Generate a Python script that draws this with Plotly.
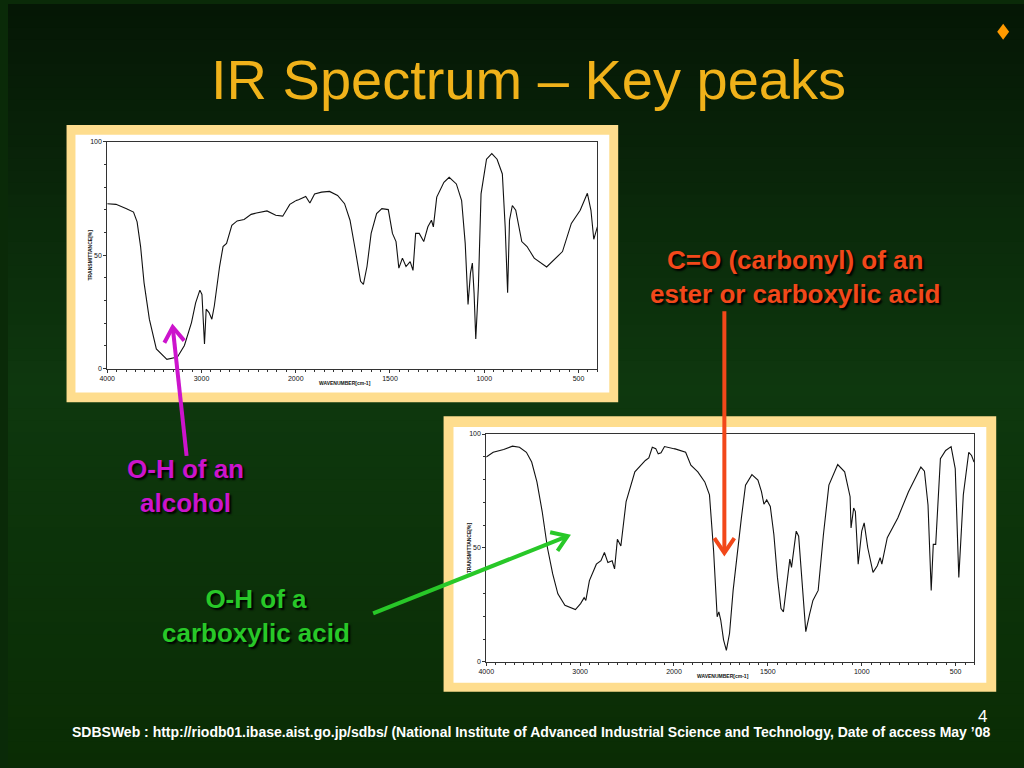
import math
import plotly.graph_objects as go

# ---------------- data ----------------
wn_alcohol = [4000, 3907, 3795, 3721, 3683, 3646, 3609, 3553, 3479, 3367, 3255, 3181, 3106, 3062, 3017,
              2995, 2968, 2950, 2920, 2890, 2864, 2808, 2771, 2734, 2678, 2622, 2548, 2473, 2417, 2305,
              2212, 2138, 2063, 1985, 1947, 1925, 1900, 1863, 1821, 1778, 1741, 1712, 1684, 1656, 1641,
              1622, 1600, 1571, 1543, 1509, 1487, 1468, 1453, 1434, 1415, 1393, 1378, 1364, 1345, 1321,
              1299, 1280, 1270, 1252, 1214, 1186, 1148, 1120, 1101, 1086, 1073, 1063, 1054, 1045, 1031,
              1017, 988, 960, 932, 904, 889, 876, 866, 851, 833, 801, 773, 735, 669, 632,
              585, 538, 491, 453, 434, 419, 400]
t_alcohol = [72.7, 72.4, 70.5, 69.0, 64.7, 53.8, 37.8, 21.8, 8.7, 4.1, 5.1, 10.2, 20.3, 29.0, 34.6,
             32.7, 10.9, 26.2, 24.7, 21.8, 27.6, 45.0, 53.8, 55.2, 63.2, 65.1, 65.7, 68.0, 68.6, 69.5,
             67.6, 67.2, 72.4, 74.4, 75.9, 73.0, 77.0, 77.8, 78.1, 76.3, 72.7, 65.4, 52.3, 38.5, 37.1,
             45.0, 59.6, 68.3, 70.5, 70.1, 59.6, 56.0, 44.3, 48.7, 45.0, 47.2, 43.3, 59.6, 59.6, 56.0,
             62.5, 65.4, 62.5, 75.6, 82.1, 84.3, 81.4, 74.1, 55.2, 28.3, 42.2, 46.5, 33.4, 13.1, 36.3,
             77.0, 92.3, 94.8, 92.3, 85.8, 62.5, 33.4, 65.4, 71.9, 69.8, 56.0, 53.8, 48.7, 44.8, 48.0,
             51.6, 64.0, 69.8, 77.3, 69.8, 57.0, 62.5]

wn_acid = [4000, 3926, 3814, 3721, 3646, 3572, 3516, 3460, 3404, 3348, 3292, 3237, 3162, 3050, 2995,
           2957, 2939, 2901, 2827, 2778, 2741, 2704, 2659, 2633, 2603, 2566, 2510, 2417, 2305, 2268,
           2231, 2194, 2168, 2138, 2101, 1994, 1938, 1910, 1873, 1836, 1811, 1789, 1770, 1761, 1751,
           1736, 1721, 1704, 1685, 1666, 1641, 1619, 1585, 1553, 1534, 1521, 1506, 1487, 1468, 1449,
           1430, 1417, 1402, 1383, 1374, 1364, 1349, 1336, 1321, 1298, 1279, 1260, 1232, 1204, 1175,
           1128, 1091, 1062, 1057, 1043, 1034, 1019, 1000, 987, 968, 940, 917, 902, 893, 864,
           808, 751, 685, 666, 647, 630, 619, 606, 581, 553, 524, 502, 483, 472, 459,
           430, 415, 402]
t_acid = [89.9, 92.0, 93.2, 94.7, 94.2, 92.0, 87.7, 79.0, 66.0, 50.1, 38.6, 29.9, 24.9, 23.0, 25.6,
          28.2, 27.0, 35.7, 42.9, 44.4, 48.0, 43.6, 44.4, 40.8, 53.8, 50.9, 70.4, 83.4, 88.4, 89.5,
          94.2, 93.6, 91.3, 91.8, 94.5, 93.5, 92.0, 86.3, 83.4, 79.0, 73.3, 48.7, 19.8, 22.0, 18.4,
          9.7, 5.1, 12.6, 31.4, 45.8, 63.2, 77.6, 82.2, 79.8, 74.7, 69.2, 71.1, 68.2, 55.9, 37.1,
          23.4, 22.0, 31.4, 45.1, 41.5, 48.7, 57.4, 55.2, 37.1, 13.3, 20.5, 27.0, 31.4, 55.9, 77.6,
          86.6, 83.4, 72.5, 58.8, 67.5, 66.0, 42.9, 57.4, 61.0, 50.1, 39.3, 42.2, 45.8, 42.9, 54.5,
          63.2, 74.7, 85.5, 83.7, 68.9, 31.4, 51.6, 51.6, 89.2, 92.8, 94.5, 84.8, 37.1, 53.0, 73.3,
          92.0, 90.6, 87.7]

x_ticks_high = [4000, 3000]
x_ticks_low = [2000, 1500, 1000, 500]
y_ticks = [0, 50, 100]

title_text = "IR Spectrum \u2013 Key peaks"
label_carbonyl = ["C=O (carbonyl) of an", "ester or carboxylic acid"]
label_alcohol = ["O-H of an", "alcohol"]
label_acid = ["O-H of a", "carboxylic acid"]
footer_text = ("SDBSWeb : http://riodb01.ibase.aist.go.jp/sdbs/ (National Institute of Advanced "
               "Industrial Science and Technology, Date of access May \u201908")

# ---------------- layout helpers ----------------
W, H = 1024, 768


def px(x):
    return x / W


def py(y):
    return 1 - y / H


FONT = "Liberation Sans, Arial, sans-serif"
shapes = []
annotations = []


def note(x, y, text, size, color, xanchor="center", yanchor="middle", **kw):
    annotations.append(dict(x=px(x), y=py(y), xref="paper", yref="paper", text=text,
                            showarrow=False, xanchor=xanchor, yanchor=yanchor,
                            font=dict(family=FONT, size=size, color=color, **kw.pop("font", {})),
                            **kw))


# background gradient
stops = [(0.0, (5, 22, 5)), (0.5, (14, 56, 14)), (1.0, (10, 44, 4))]


def grad(t):
    for (a, ca), (b, cb) in zip(stops[:-1], stops[1:]):
        if a <= t <= b:
            f = (t - a) / (b - a)
            return "rgb(%d,%d,%d)" % tuple(round(ca[i] + (cb[i] - ca[i]) * f) for i in range(3))
    return "rgb(10,44,4)"


N = 64
for i in range(N):
    shapes.append(dict(type="rect", xref="paper", yref="paper", layer="below",
                       x0=0, x1=1, y0=1 - (i + 1) / N - 0.002, y1=1 - i / N,
                       fillcolor=grad((i + 0.5) / N), line=dict(width=0)))

# panel frames
panels = [
    dict(frame=(59, 122, 615, 402), white=(68, 132, 606, 392), plot=(100, 139, 594, 368)),
    dict(frame=(439, 416, 996, 694), white=(449, 427, 986, 685), plot=(482, 434, 974, 664)),
]
for p in panels:
    fx0, fy0, fx1, fy1 = p["frame"]
    shapes.append(dict(type="rect", xref="paper", yref="paper", layer="below",
                       x0=px(fx0), x1=px(fx1), y0=py(fy1), y1=py(fy0),
                       fillcolor="#fedd8e", line=dict(width=0)))
    wx0, wy0, wx1, wy1 = p["white"]
    shapes.append(dict(type="rect", xref="paper", yref="paper", layer="below",
                       x0=px(wx0), x1=px(wx1), y0=py(wy1), y1=py(wy0),
                       fillcolor="white", line=dict(width=0)))

fig = go.Figure()
layout_axes = {}
split = 2000 / (2000 + 3200)
series = [(wn_alcohol, t_alcohol), (wn_acid, t_acid)]
tickfont = dict(family=FONT, size=7, color="#111")

for k, (p, (wn, tt)) in enumerate(zip(panels, series)):
    x0, y0, x1, y1 = p["plot"]
    d0, d1 = px(x0), px(x1)
    dm = d0 + (d1 - d0) * split
    ydom = [py(y1), py(y0)]
    ia = 2 * k + 1
    ib = 2 * k + 2
    xa = "x" if ia == 1 else "x%d" % ia
    xb = "x%d" % ib
    ya = "y" if ia == 1 else "y%d" % ia
    yb = "y%d" % ib
    for xn, yn in ((xa, ya), (xb, yb)):
        fig.add_trace(go.Scatter(x=wn, y=tt, mode="lines", xaxis=xn, yaxis=yn,
                                 line=dict(color="#111", width=1.1), showlegend=False,
                                 hoverinfo="x+y"))
    common_x = dict(showline=True, linecolor="#333", linewidth=1, mirror=True, showgrid=False,
                    zeroline=False, ticks="outside", ticklen=3, tickcolor="#333",
                    tickfont=tickfont, tickmode="array")
    layout_axes["xaxis" + ("" if ia == 1 else str(ia))] = dict(
        common_x, domain=[d0, dm], range=[4000, 2000], tickvals=x_ticks_high, anchor=ya,
        minor=dict(dtick=100, tick0=0, ticks="outside", ticklen=2, tickcolor="#333"))
    layout_axes["xaxis%d" % ib] = dict(
        common_x, domain=[dm, d1], range=[2000, 400], tickvals=x_ticks_low, anchor=yb,
        minor=dict(dtick=50, tick0=0, ticks="outside", ticklen=2, tickcolor="#333"))
    layout_axes["yaxis" + ("" if ia == 1 else str(ia))] = dict(
        domain=ydom, range=[0, 100], anchor=xa, showline=True, linecolor="#333", linewidth=1,
        showgrid=False, zeroline=False, ticks="outside", ticklen=3, tickcolor="#333",
        tickmode="array", tickvals=y_ticks, tickfont=tickfont,
        minor=dict(dtick=10, ticks="outside", ticklen=2, tickcolor="#333"))
    layout_axes["yaxis%d" % ib] = dict(
        domain=ydom, range=[0, 100], anchor=xb, side="right", showline=True, linecolor="#333",
        linewidth=1, showgrid=False, zeroline=False, showticklabels=False, ticks="")
    # axis titles
    note(x0 + (x1 - x0) * 0.485, y1 + 14, "<b>WAVENUMBER[cm-1]</b>", 5, "#111")
    note(x0 - 17, (y0 + y1) / 2, "<b>TRANSMITTANCE[%]</b>", 5, "#111", textangle=-90)

# title
note(525, 76, title_text, 56, "#f0b21a")

# labels
shadow = "2px 2px 2px #000"


def two_lines(lines):
    return "<br>".join("<b>%s</b>" % s for s in lines)


note(793, 276, two_lines(label_carbonyl), 26, "#f2481a", font=dict(shadow=shadow))
note(179, 486, two_lines(label_alcohol), 26, "#cc14cc", font=dict(shadow=shadow))
note(250, 618, two_lines(label_acid), 26, "#28c828", font=dict(shadow=shadow))

# footer
note(62, 735, "<b>%s</b>" % footer_text, 14, "white", xanchor="left")
note(982, 719, "4", 17, "white")

# diamond bullet
cx, cy = 1003, 28
shapes.append(dict(type="path", xref="paper", yref="paper",
                   path="M %f %f L %f %f L %f %f L %f %f Z" % (px(cx), py(cy - 8), px(cx + 6), py(cy),
                                                            px(cx), py(cy + 8), px(cx - 6), py(cy)),
                   fillcolor="#ff9a00", line=dict(width=0)))


# arrows
def arrow(tail, tip, color, head=18, ang=34):
    tx, ty = tail
    hx, hy = tip
    shapes.append(dict(type="line", xref="paper", yref="paper", x0=px(tx), y0=py(ty),
                       x1=px(hx), y1=py(hy), line=dict(color=color, width=4)))
    a = math.atan2(ty - hy, tx - hx)
    pts = []
    for s in (-1, 1):
        b = a + s * math.radians(ang)
        pts.append((hx + head * math.cos(b), hy + head * math.sin(b)))
    shapes.append(dict(type="path", xref="paper", yref="paper",
                       path="M %f %f L %f %f L %f %f" % (px(pts[0][0]), py(pts[0][1]), px(hx), py(hy),
                                                        px(pts[1][0]), py(pts[1][1])),
                       line=dict(color=color, width=4)))


arrow((180, 456), (166, 326), "#cc14cc")
arrow((722, 310), (722, 554), "#f2481a")
arrow((368, 615), (564, 537), "#28c828")

fig.update_layout(width=W, height=H, margin=dict(l=0, r=0, t=0, b=0),
                  paper_bgcolor="#0a2a08", plot_bgcolor="rgba(0,0,0,0)",
                  shapes=shapes, annotations=annotations, showlegend=False, **layout_axes)

post = ("var gd=document.getElementById('{plot_id}');"
        "var de=document.documentElement, bd=document.body;"
        "de.style.margin='0';de.style.padding='0';de.style.overflow='hidden';"
        "bd.style.margin='0';bd.style.padding='0';bd.style.overflow='hidden';"
        "gd.style.position='fixed';gd.style.left='0px';gd.style.top='0px';")

fig.write_html("out.html", config={"displayModeBar": False}, post_script=post)
